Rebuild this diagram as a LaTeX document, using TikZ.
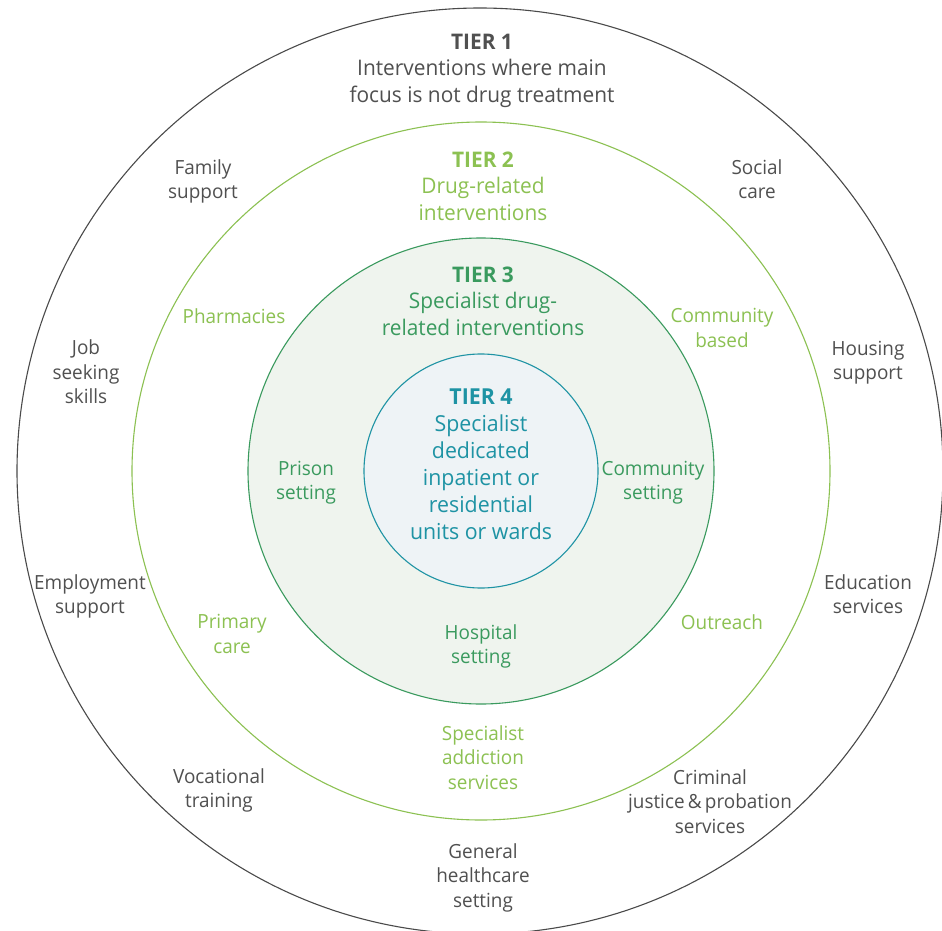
\documentclass[tikz,border=0pt]{standalone}
\usepackage{fontspec}
\setmainfont{Open Sans}[FakeStretch=0.97]
\definecolor{tonegray}{HTML}{505050}
\definecolor{ringgray}{HTML}{4A4A4A}
\definecolor{tlight}{HTML}{8CC152}
\definecolor{tgreen}{HTML}{3A9A5E}
\definecolor{tteal}{HTML}{1E93A4}
\definecolor{fillgreen}{HTML}{EFF4EE}
\definecolor{fillblue}{HTML}{EEF3F6}
\begin{document}
\begin{tikzpicture}[x=1pt,y=-1pt,
  lbl/.style={align=center,inner sep=0pt,font=\fontsize{19.5}{24.5}\selectfont},
  head/.style={align=center,inner sep=0pt,font=\fontsize{21.5}{26.5}\selectfont},
  g1/.style={text=tonegray},
  g2/.style={text=tlight},
  g3/.style={text=tgreen},
  g4/.style={text=tteal}]
\useasboundingbox (0,0) rectangle (942,931);
\clip (0,0) rectangle (942,931);
\fill[white] (0,0) rectangle (942,931);
% rings
\draw[ringgray,line width=1.1pt] (480,471) circle[radius=463];
\draw[tlight,line width=1.1pt] (481,471) circle[radius=349];
\draw[tgreen,line width=1.1pt,fill=fillgreen] (481,471) circle[radius=233];
\draw[tteal,line width=1.1pt,fill=fillblue] (481,471) circle[radius=117];
% headings
\node[head,g1] (t1) at (482,70.5) {\textbf{TIER 1}\\Interventions where main\\focus is not drug treatment};
\node[head,g2] (t2) at (483,186) {\textbf{TIER 2}\\Drug-related\\interventions};
\node[head,g3] (t3) at (483,301) {\textbf{TIER 3}\\Specialist drug-\\related interventions};
\node[head,g4,font=\fontsize{22}{27}\selectfont] (t4) at (481,464) {\textbf{TIER 4}\\Specialist\\dedicated\\inpatient or\\residential\\units or wards};
% tier 1 items
\node[lbl,g1] (fam) at (203,181.5) {Family\\support};
\node[lbl,g1] (soc) at (757,179) {Social\\care};
\node[lbl,g1] (job) at (86,372) {Job\\seeking\\skills};
\node[lbl,g1] (hou) at (868,362.5) {Housing\\support};
\node[lbl,g1] (emp) at (90,596.5) {Employment\\support};
\node[lbl,g1] (edu) at (868,594) {Education\\services};
\node[lbl,g1] (voc) at (219,790.5) {Vocational\\training};
\node[lbl,g1] (cri) at (710,801.5) {Criminal\\justice\,\&\,probation\\services};
\node[lbl,g1] (gen) at (483,877.5) {General\\healthcare\\setting};
% tier 2 items
\node[lbl,g2] (pha) at (234,316) {Pharmacies};
\node[lbl,g2] (cbd) at (722,328) {Community\\based};
\node[lbl,g2] (pri) at (232,634) {Primary\\care};
\node[lbl,g2] (out) at (722,622) {Outreach};
\node[lbl,g2] (spa) at (483,757.5) {Specialist\\addiction\\services};
% tier 3 items
\node[lbl,g3] (pri3) at (306,482.5) {Prison\\setting};
\node[lbl,g3] (com3) at (653,482.5) {Community\\setting};
\node[lbl,g3] (hos) at (481,646.5) {Hospital\\setting};
\end{tikzpicture}
\end{document}
